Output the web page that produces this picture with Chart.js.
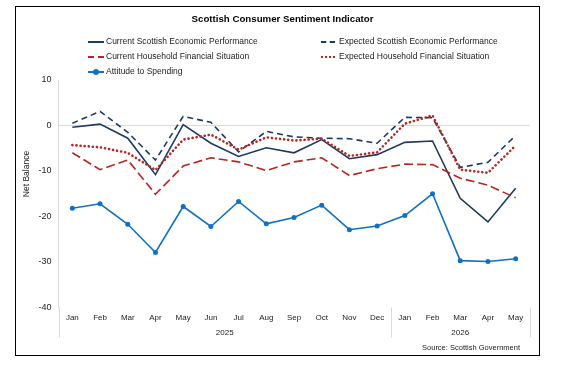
<!DOCTYPE html>
<html>
<head>
<meta charset="utf-8">
<script src="https://cdn.jsdelivr.net/npm/chart.js@4"></script>
<style>
    body { margin: 0; background: #fff; font-family: "Liberation Sans", Arial, sans-serif; }
    #wrap { position: relative; width: 565px; height: 367px; }
    #frame { position: absolute; left: 15px; top: 6px; width: 523px; height: 348px; border: 1.5px solid #000; }
    #title { position: absolute; left: 0; width: 565px; top: 13px; text-align: center; font-weight: bold; font-size: 9.7px; color: #000; }
    .item { position: absolute; font-size: 8.5px; color: #222; white-space: nowrap; line-height: 10px; }
    .sample { position: absolute; top: 4.5px; height: 0; }
    #source { position: absolute; right: 45px; top: 343px; font-size: 7.5px; color: #222; }
    canvas { position: absolute; left: 0; top: 0; }
</style>
</head>
<body>
<div id="wrap">
    <canvas id="sentimentChart" width="565" height="367"></canvas>
    <div id="frame"></div>
    <div id="title">Scottish Consumer Sentiment Indicator</div>
    <div id="legend"></div>
    <div id="source">Source: Scottish Government</div>
</div>
<script>
// Months, Jan 2025 to May 2026
const months = ["Jan", "Feb", "Mar", "Apr", "May", "Jun", "Jul", "Aug", "Sep", "Oct", "Nov", "Dec",
                "Jan", "Feb", "Mar", "Apr", "May"];
const years = ["2025", "2026"];
const yearStart = [0, 12];

const currentEconomy = [-0.4, 0.3, -2.8, -10.8, 0.2, -3.9, -6.8, -4.9, -6.0, -3.1, -7.3, -6.4, -3.7, -3.4, -16.0, -21.2, -13.8];
const expectedEconomy = [0.5, 3.1, -1.5, -7.6, 2.0, 0.7, -5.8, -1.3, -2.5, -2.8, -2.9, -3.9, 1.8, 1.7, -9.2, -8.1, -2.2];
const currentHousehold = [-6.0, -9.7, -7.6, -15.1, -8.9, -7.1, -8.0, -9.9, -8.0, -7.1, -11.0, -9.5, -8.5, -8.6, -11.6, -13.1, -15.9];
const expectedHousehold = [-4.3, -4.8, -6.0, -9.8, -3.1, -2.0, -5.3, -2.6, -3.3, -2.9, -6.7, -5.9, 0.4, 2.2, -9.7, -10.4, -4.4];
const spending = [-18.2, -17.2, -21.7, -27.9, -17.8, -22.2, -16.7, -21.6, -20.2, -17.5, -22.9, -22.1, -19.8, -15.0, -29.7, -29.9, -29.3];

const yTicks = [10, 0, -10, -20, -30, -40];

const navy = "#1F3864";
const red = "#B5271F";
const blue = "#1170C4";
const font = "'Liberation Sans', Arial, sans-serif";

// legend drawn in html so it sits in two columns like the original
const legendItems = [
    { text: "Current Scottish Economic Performance", x: 88, y: 36, css: "width:16px;border-top: 2px solid " + navy },
    { text: "Expected Scottish Economic Performance", x: 321, y: 36, css: "width:14px;border-top: 2px dashed " + navy },
    { text: "Current Household Financial Situation", x: 88, y: 51, css: "width:16px;border-top: 2px dashed " + red },
    { text: "Expected Household Financial Situation", x: 321, y: 51, css: "width:14px;border-top: 2.5px dotted " + red },
    { text: "Attitude to Spending", x: 88, y: 66, css: "width:16px;border-top: 2px solid " + blue, dot: true }
];
const legendBox = document.getElementById("legend");
legendItems.forEach(function (it) {
    const d = document.createElement("div");
    d.className = "item";
    d.style.left = it.x + "px";
    d.style.top = it.y + "px";
    let html = '<div class="sample" style="' + it.css + '"></div>';
    if (it.dot) {
        html += '<div style="position:absolute;left:5px;top:2.5px;width:6px;height:6px;border-radius:3px;background:' + blue + '"></div>';
    }
    const gap = it.x > 200 ? 18 : 18;
    d.innerHTML = html + '<span style="margin-left:' + gap + 'px">' + it.text + '</span>';
    legendBox.appendChild(d);
});

// year labels, separators and the y title
const extras = {
    id: "extras",
    afterDraw(chart) {
        const ctx = chart.ctx;
        const x = chart.scales.x;
        const area = chart.chartArea;
        ctx.save();
        ctx.strokeStyle = "#d9d9d9";
        ctx.lineWidth = 1;
        const seps = [area.left, (x.getPixelForValue(11) + x.getPixelForValue(12)) / 2, area.right];
        seps.forEach(function (sx) {
            ctx.beginPath();
            ctx.moveTo(Math.round(sx) + 0.5, area.bottom);
            ctx.lineTo(Math.round(sx) + 0.5, area.bottom + 30);
            ctx.stroke();
        });
        ctx.fillStyle = "#222";
        ctx.font = "8px " + font;
        ctx.textAlign = "center";
        ctx.textBaseline = "middle";
        years.forEach(function (yr, i) {
            const a = yearStart[i];
            const b = i + 1 < yearStart.length ? yearStart[i + 1] - 1 : months.length - 1;
            const cx = (x.getPixelForValue(a) + x.getPixelForValue(b)) / 2;
            ctx.fillText(yr, cx, area.bottom + 25);
        });
        ctx.font = "8.5px " + font;
        ctx.translate(27, 174);
        ctx.rotate(-Math.PI / 2);
        ctx.fillText("Net Balance", 0, 0);
        ctx.restore();
    }
};

function line(label, data, color, dash, width, extra) {
    return Object.assign({
        label: label,
        data: data,
        borderColor: color,
        backgroundColor: color,
        borderWidth: width,
        borderDash: dash,
        pointRadius: 0,
        tension: 0,
        fill: false
    }, extra || {});
}

new Chart(document.getElementById("sentimentChart"), {
    type: "line",
    data: {
        labels: months,
        datasets: [
            line("Attitude to Spending", spending, blue, [], 1.6, { pointRadius: 2.5, pointBorderWidth: 0 }),
            line("Current Household Financial Situation", currentHousehold, red, [9, 4], 1.6),
            line("Expected Household Financial Situation", expectedHousehold, red, [0.1, 4], 2.6, { borderCapStyle: "round" }),
            line("Expected Scottish Economic Performance", expectedEconomy, navy, [6, 4], 1.6),
            line("Current Scottish Economic Performance", currentEconomy, navy, [], 1.6)
        ]
    },
    options: {
        responsive: false,
        devicePixelRatio: 1,
        animation: false,
        layout: { padding: { left: 14.5, right: 35.5, top: 80, bottom: 29.5 } },
        plugins: {
            legend: { display: false },
            tooltip: { enabled: false }
        },
        scales: {
            x: {
                offset: true,
                grid: { display: false, drawTicks: false },
                border: { display: false },
                ticks: { color: "#222", font: { family: font, size: 8 }, padding: 5, maxRotation: 0, autoSkip: false },
                afterFit(scale) { scale.height = 30; }
            },
            y: {
                min: -40,
                max: 10,
                afterBuildTicks(scale) { scale.ticks = yTicks.map(function (v) { return { value: v }; }); },
                grid: {
                    drawTicks: false,
                    color(c) { return c.tick && c.tick.value === 0 ? "#d9d9d9" : "rgba(0,0,0,0)"; }
                },
                border: { display: true, color: "#d9d9d9" },
                ticks: { color: "#222", font: { family: font, size: 9 }, padding: 7 },
                afterFit(scale) { scale.width = 44; }
            }
        }
    },
    plugins: [extras]
});
</script>
</body>
</html>
